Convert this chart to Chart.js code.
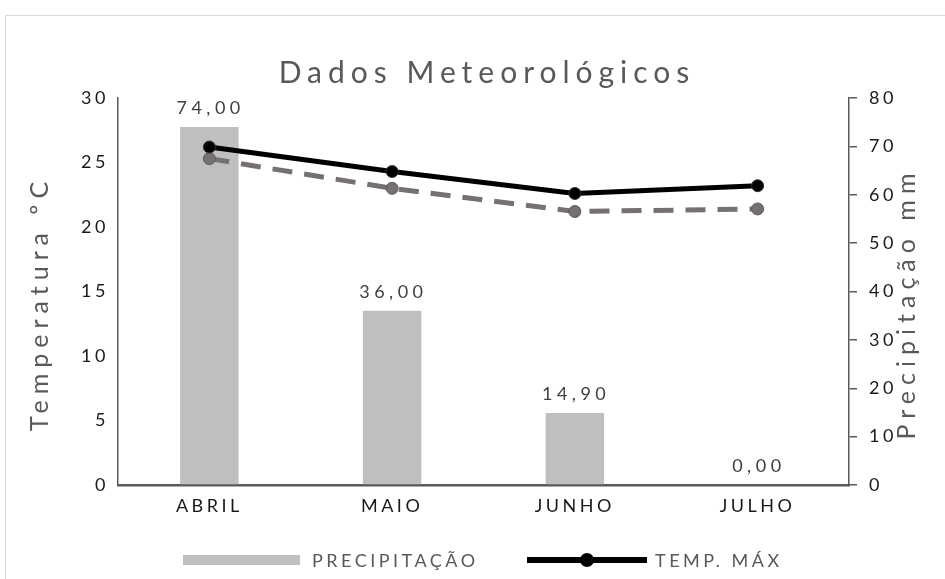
<!DOCTYPE html>
<html>
<head>
<meta charset="utf-8">
<script src="https://cdn.jsdelivr.net/npm/chart.js@4.4.1/dist/chart.umd.min.js"></script>
<style>
  html, body { margin: 0; padding: 0; background: #fff; }
  #wrap { position: relative; width: 945px; height: 579px; overflow: hidden; }
  #frame { position: absolute; left: 5px; top: 15px; width: 2000px; height: 2000px;
           border-left: 1px solid #d9d9d9; border-top: 1px solid #d9d9d9; }
  canvas { position: absolute; left: 0; top: 0; }
</style>
</head>
<body>
<div id="wrap">
  <div id="frame"></div>
  <canvas id="chart" width="945" height="579"></canvas>
</div>
<script>
const months = ['ABRIL', 'MAIO', 'JUNHO', 'JULHO'];
const precipitacao = [74.0, 36.0, 14.9, 0.0];
const tempMax = [26.2, 24.3, 22.6, 23.2];
const tempMin = [25.3, 23.0, 21.2, 21.4];
const tempTicks = [0, 5, 10, 15, 20, 25, 30];
const precTicks = [0, 10, 20, 30, 40, 50, 60, 70, 80];

const chartTitle = 'Dados Meteorológicos';
const leftTitle = 'Temperatura ºC';
const rightTitle = 'Precipitação mm';

const FONT = 'Lato, Calibri, "Open Sans", sans-serif';

// Excel-like spaced text for the tick labels
function spacing(chart) {
    chart.ctx.letterSpacing = '3.5px';
}

function spacedText(ctx, text, x, y, gap) {
    // letterSpacing also pads after the last glyph, shift to keep it centred
    ctx.letterSpacing = gap + 'px';
    ctx.fillText(text, x + gap / 2, y);
}

const extras = {
    id: 'extras',
    beforeUpdate: spacing,
    beforeLayout: spacing,
    beforeDraw: spacing,
    afterDatasetsDraw(chart) {
        const ctx = chart.ctx;
        // value labels above the bars
        const meta = chart.getDatasetMeta(0);
        ctx.save();
        ctx.font = '18px ' + FONT;
        ctx.fillStyle = '#404040';
        ctx.textAlign = 'center';
        ctx.textBaseline = 'alphabetic';
        meta.data.forEach(function (bar, i) {
            spacedText(ctx, precipitacao[i].toFixed(2).replace('.', ','), bar.x - 1, bar.y - 13, 4.5);
        });
        ctx.restore();
    },
    afterDraw(chart) {
        const ctx = chart.ctx;
        const area = chart.chartArea;
        const midY = (area.top + area.bottom) / 2 + 15;

        // chart title
        ctx.save();
        ctx.font = '30px ' + FONT;
        ctx.fillStyle = '#595959';
        ctx.textAlign = 'center';
        ctx.textBaseline = 'alphabetic';
        spacedText(ctx, chartTitle, 484, 83, 6);
        ctx.restore();

        // axis titles, both read bottom to top
        [[leftTitle, 40], [rightTitle, 907]].forEach(function (t) {
            ctx.save();
            ctx.font = '25px ' + FONT;
            ctx.fillStyle = '#595959';
            ctx.textAlign = 'center';
            ctx.textBaseline = 'middle';
            ctx.translate(t[1], midY);
            ctx.rotate(-Math.PI / 2);
            spacedText(ctx, t[0], 0, 0, 6);
            ctx.restore();
        });

        // legend (third entry is cut off in the reference)
        const ly = 560;
        ctx.save();
        ctx.font = '18px ' + FONT;
        ctx.textBaseline = 'middle';
        ctx.letterSpacing = '3.5px';

        ctx.fillStyle = '#bfbfbf';
        ctx.fillRect(183, ly - 5, 117, 10);
        ctx.fillStyle = '#595959';
        ctx.fillText(chart.data.datasets[0].label, 312, ly + 1);

        ctx.strokeStyle = '#000';
        ctx.lineWidth = 6;
        ctx.beginPath();
        ctx.moveTo(527, ly);
        ctx.lineTo(647, ly);
        ctx.stroke();
        ctx.fillStyle = '#000';
        ctx.beginPath();
        ctx.arc(587, ly, 7, 0, Math.PI * 2);
        ctx.fill();
        ctx.fillStyle = '#595959';
        ctx.fillText(chart.data.datasets[1].label, 655, ly + 1);
        ctx.restore();
    }
};

new Chart(document.getElementById('chart'), {
    type: 'bar',
    data: {
        labels: months,
        datasets: [
            {
                type: 'bar',
                label: 'PRECIPITAÇÃO',
                data: precipitacao,
                yAxisID: 'y1',
                backgroundColor: '#bfbfbf',
                barPercentage: 0.32,
                categoryPercentage: 1,
                order: 2
            },
            {
                type: 'line',
                label: 'TEMP. MÁX',
                data: tempMax,
                yAxisID: 'y',
                borderColor: '#000000',
                backgroundColor: '#000000',
                borderWidth: 5,
                pointRadius: 6,
                pointBorderColor: '#333333',
                pointBorderWidth: 1,
                tension: 0,
                order: 0
            },
            {
                type: 'line',
                label: 'TEMP. MÍN',
                data: tempMin,
                yAxisID: 'y',
                borderColor: '#767171',
                backgroundColor: '#767171',
                borderWidth: 5,
                borderDash: [20, 12],
                pointRadius: 6,
                pointBorderColor: '#5f5a5a',
                pointBorderWidth: 1,
                tension: 0,
                order: 1
            }
        ]
    },
    options: {
        responsive: false,
        animation: false,
        layout: { padding: { top: 98 } },
        plugins: {
            legend: { display: false },
            tooltip: { enabled: false },
            title: { display: false }
        },
        scales: {
            x: {
                grid: { display: false, drawTicks: false },
                border: { display: true, color: '#595959', width: 2.5 },
                ticks: { color: '#1a1a1a', font: { family: FONT, size: 18 }, padding: 10 },
                afterFit: function (scale) { scale.height = 94; }
            },
            y: {
                position: 'left',
                min: 0,
                max: 30,
                afterBuildTicks: function (scale) { scale.ticks = tempTicks.map(v => ({ value: v })); },
                grid: { display: false, drawTicks: false },
                border: { display: true, color: '#595959', width: 1.5 },
                ticks: { color: '#1a1a1a', font: { family: FONT, size: 18 }, padding: 9 },
                afterFit: function (scale) { scale.width = 118; }
            },
            y1: {
                position: 'right',
                min: 0,
                max: 80,
                afterBuildTicks: function (scale) { scale.ticks = precTicks.map(v => ({ value: v })); },
                grid: { display: true, drawOnChartArea: false, drawTicks: true, tickLength: 8, color: '#595959', lineWidth: 1.5 },
                border: { display: true, color: '#595959', width: 1.5 },
                ticks: { color: '#1a1a1a', font: { family: FONT, size: 18 }, padding: 12 },
                afterFit: function (scale) { scale.width = 96; }
            }
        }
    },
    plugins: [extras]
});
</script>
</body>
</html>
